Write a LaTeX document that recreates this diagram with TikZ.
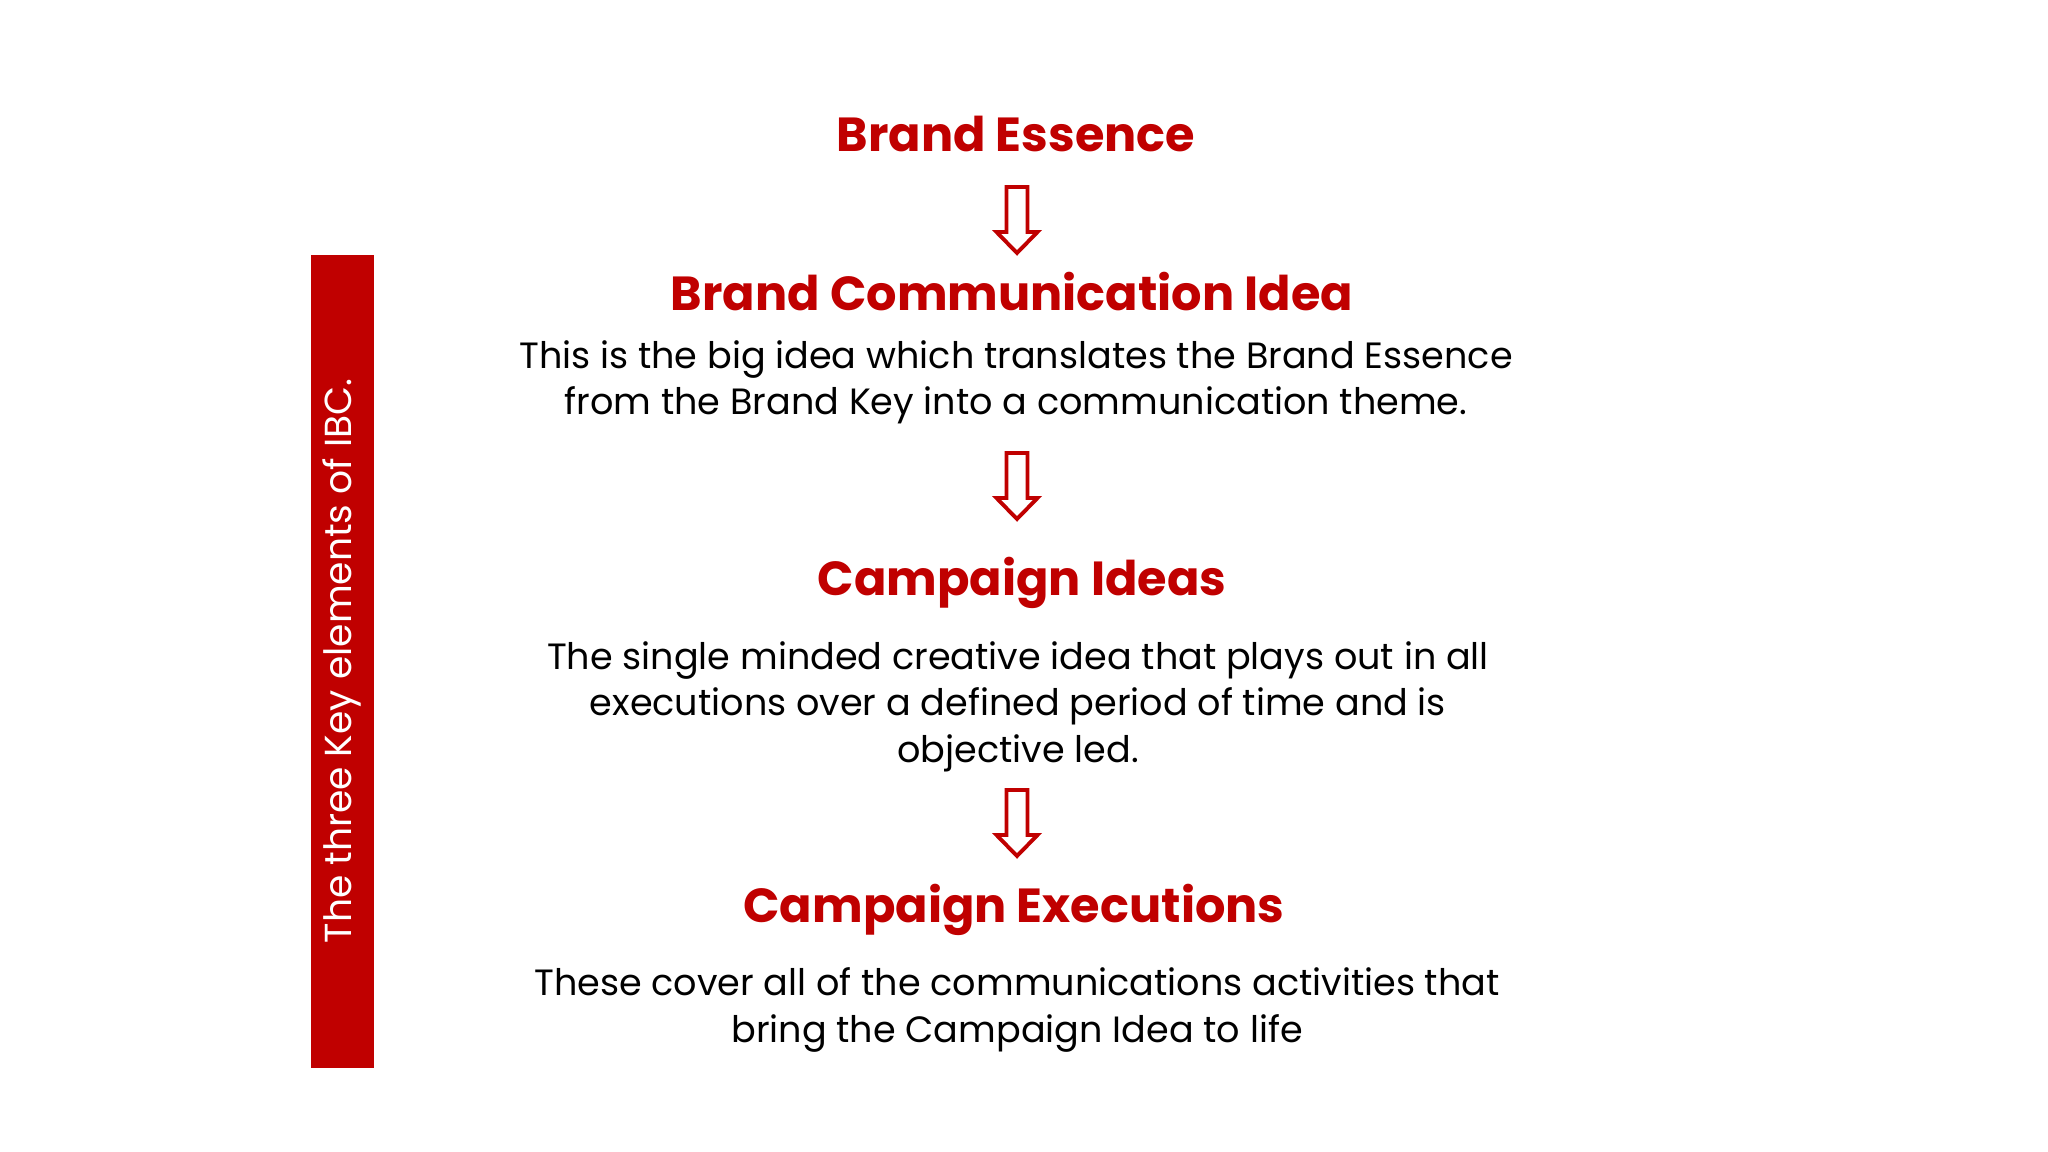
\documentclass[tikz,border=0pt]{standalone}
\usepackage{fontspec}
\setmainfont{Poppins}
\definecolor{ibcred}{HTML}{C00000}

\begin{document}
\begin{tikzpicture}[x=0.01cm, y=-0.01cm,
    title/.style={anchor=base, text=ibcred, font=\fontsize{13.6}{16}\selectfont\bfseries, inner sep=0pt},
    body/.style={anchor=base, align=center, font=\fontsize{10.4}{13.1}\selectfont, inner sep=0pt},
    blockarrow/.style={draw=ibcred, line width=1.1pt, fill=white, line join=miter}]
% Frame of the slide
\useasboundingbox (0,0) rectangle (2048,1152);
% Side bar
\fill[ibcred] (311,255) rectangle (374,1068);
\node[rotate=90, text=white, font=\fontsize{10.7}{12}\selectfont, inner sep=0pt] (side) at (342,661) {The three Key elements of IBC.};
% Titles
\node[title] (be)  at (1016,152) {Brand Essence};
\node[title] (bci) at (1012,311) {Brand Communication Idea};
\node[title] (ci)  at (1022,595) {Campaign Ideas};
\node[title] (ce)  at (1014,922) {Campaign Executions};
% Descriptions (base = last line)
\node[body] (bcitxt) at (1016,415) {This is the big idea which translates the Brand Essence\\from the Brand Key into a communication theme.};
\node[body] (citxt)  at (1018,762) {The single minded creative idea that plays out in all\\executions over a defined period of time and is\\objective led.};
\node[body] (cetxt)  at (1017,1042) {These cover all of the communications activities that\\bring the Campaign Idea to life};
% Hollow down arrows
\coordinate (a1) at (1017,187);
\coordinate (a2) at (1017,453);
\coordinate (a3) at (1017,790);
\foreach \a in {a1,a2,a3}
  \draw[blockarrow] (\a) ++(-10.5,0) -- ++(0,45) -- ++(-10,0) -- ++(20.5,21)
    -- ++(20.5,-21) -- ++(-10,0) -- ++(0,-45) -- cycle;
\end{tikzpicture}
\end{document}
